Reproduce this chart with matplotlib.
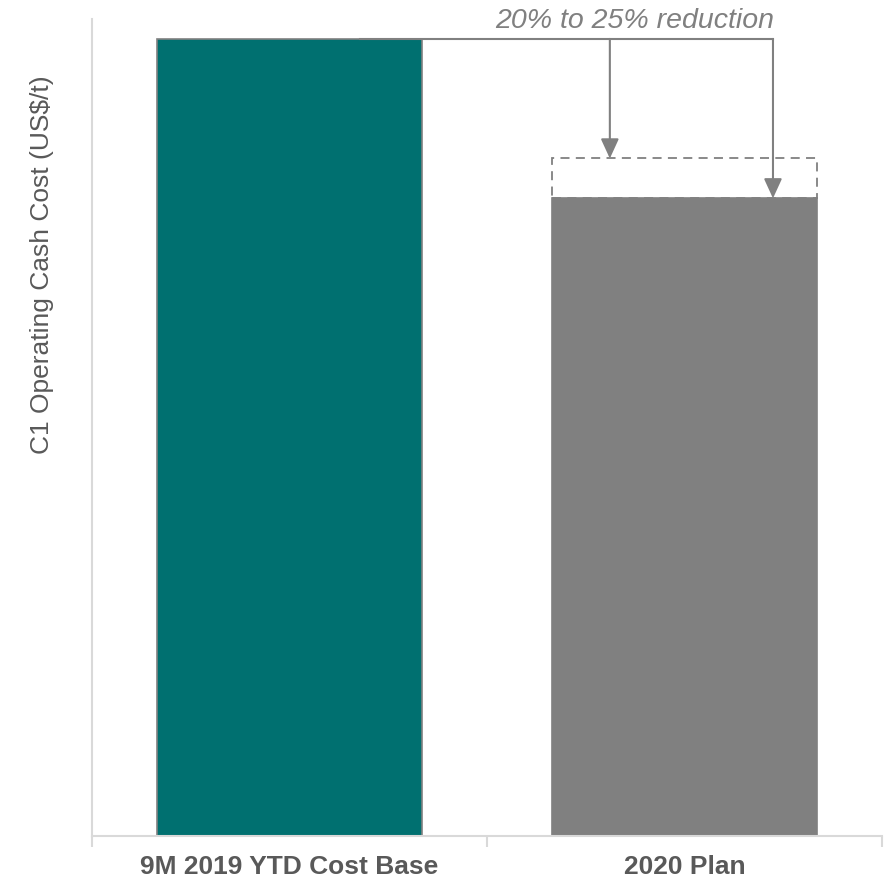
import matplotlib
matplotlib.use("Agg")
import matplotlib.pyplot as plt
from matplotlib.patches import Rectangle

plt.rcParams['font.family'] = ['Liberation Sans', 'DejaVu Sans']

categories = ["9M 2019 YTD Cost Base", "2020 Plan"]
values = [100, 80]
plan_high = 85          # upper end of the plan range (20% reduction)
note = "20% to 25% reduction"

teal = "#007070"
grey = "#808080"
axis_grey = "#d9d9d9"
text_grey = "#595959"

fig = plt.figure(figsize=(8.94, 8.79), dpi=100)
ax = fig.add_axes([92/894, 1-837/879, 790/894, 817/879])

x = [0, 1]
ax.bar(x, values, width=0.67, color=[teal, grey], edgecolor=grey, linewidth=1.2, zorder=2)

# dashed box for the 20% reduction case
ax.add_patch(Rectangle((1-0.335, values[1]), 0.67, plan_high-values[1], fill=False,
                       edgecolor=grey, linestyle=(0, (5, 3.5)), linewidth=1.3, zorder=3))

# bracket from base bar with two arrows
x_start, x_a1, x_a2 = 0.178, 0.811, 1.224
ax.plot([x_start, x_a2], [values[0], values[0]], color=grey, lw=1.5, zorder=4)
for xa, yv in [(x_a1, plan_high), (x_a2, values[1])]:
    ax.annotate("", xy=(xa, yv), xytext=(xa, values[0]),
                arrowprops=dict(arrowstyle="-|>,head_length=1.2,head_width=0.55",
                                color=grey, lw=1.5, shrinkA=0, shrinkB=0), zorder=4)
ax.text(0.875, 102.4, note, ha="center", va="center", style="italic",
        fontsize=20.5, color=grey)

ax.set_xlim(-0.5, 1.5)
ax.set_ylim(0, 102.5)
ax.set_xticks(x)
ax.set_xticklabels(categories, fontsize=19, fontweight="bold", color=text_grey)
ax.set_xticks([-0.5, 0.5, 1.5], minor=True)
ax.tick_params(axis="x", which="major", length=0, pad=13)
ax.tick_params(axis="x", which="minor", length=8, width=1.5, color=axis_grey)
ax.set_yticks([])

for s in ["top", "right"]:
    ax.spines[s].set_visible(False)
for s in ["left", "bottom"]:
    ax.spines[s].set_color(axis_grey)
    ax.spines[s].set_linewidth(1.5)

fig.text(42/894, 1-265/879, "C1 Operating Cash Cost (US$/t)", rotation=90,
         ha="center", va="center", fontsize=19, color=text_grey)

fig.savefig("out.png", dpi=100)
